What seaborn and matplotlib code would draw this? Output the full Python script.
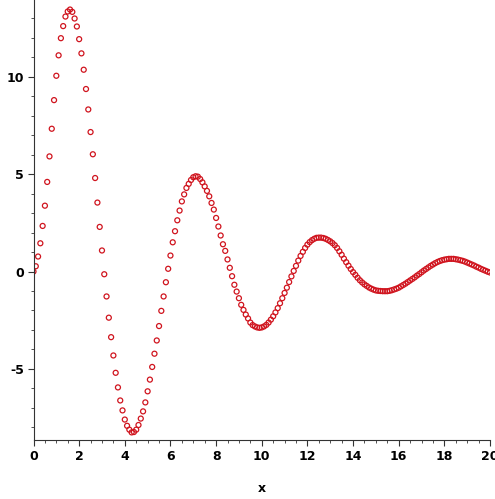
import numpy as np
import matplotlib
matplotlib.use("Agg")
import matplotlib.pyplot as plt
import seaborn as sns
from matplotlib.ticker import MultipleLocator

# valeurs, un point tous les 0.1 de x = 0 à x = 20
y_vals = [
    0.00, 0.27, 0.77, 1.45, 2.34, 3.38, 4.60, 5.91, 7.33, 8.80,
    10.05, 11.10, 11.98, 12.60, 13.09, 13.35, 13.45, 13.33, 12.99, 12.58,
    11.93, 11.20, 10.36, 9.37, 8.32, 7.16, 6.02, 4.80, 3.54, 2.29,
    1.08, -0.14, -1.28, -2.37, -3.37, -4.31, -5.20, -5.95, -6.62, -7.13,
    -7.60, -7.92, -8.12, -8.26, -8.24, -8.12, -7.88, -7.55, -7.18, -6.72,
    -6.15, -5.55, -4.90, -4.22, -3.54, -2.80, -2.02, -1.28, -0.55, 0.14,
    0.82, 1.50, 2.07, 2.63, 3.13, 3.60, 3.96, 4.29, 4.50, 4.70,
    4.84, 4.89, 4.87, 4.75, 4.58, 4.37, 4.14, 3.86, 3.52, 3.18,
    2.75, 2.31, 1.85, 1.40, 1.06, 0.62, 0.19, -0.24, -0.68, -1.03,
    -1.37, -1.71, -1.97, -2.21, -2.41, -2.62, -2.75, -2.82, -2.87, -2.89,
    -2.87, -2.82, -2.74, -2.62, -2.47, -2.30, -2.10, -1.88, -1.63, -1.37,
    -1.10, -0.83, -0.54, -0.25, 0.03, 0.29, 0.56, 0.80, 1.01, 1.21,
    1.38, 1.51, 1.61, 1.68, 1.73, 1.74, 1.74, 1.72, 1.68, 1.62,
    1.55, 1.46, 1.35, 1.21, 1.04, 0.86, 0.66, 0.48, 0.30, 0.13,
    -0.03, -0.17, -0.32, -0.45, -0.56, -0.66, -0.74, -0.82, -0.88, -0.93,
    -0.97, -0.99, -1.00, -1.01, -1.01, -1.01, -0.99, -0.96, -0.92, -0.88,
    -0.83, -0.76, -0.69, -0.62, -0.54, -0.46, -0.38, -0.30, -0.21, -0.13,
    -0.04, 0.05, 0.13, 0.21, 0.29, 0.36, 0.43, 0.49, 0.54, 0.58,
    0.61, 0.63, 0.65, 0.65, 0.65, 0.63, 0.61, 0.58, 0.55, 0.51,
    0.46, 0.41, 0.36, 0.31, 0.25, 0.20, 0.14, 0.09, 0.04, -0.01,
    -0.05,
]
x_vals = np.linspace(0, 20, len(y_vals))

x_ticks = [0, 2, 4, 6, 8, 10, 12, 14, 16, 18, 20]
y_ticks = [-5, 0, 5, 10]

sns.set_style("ticks")
plt.rcParams["axes.unicode_minus"] = False
fig = plt.figure(figsize=(4.95, 4.99), dpi=100)
ax = fig.add_axes([33.5 / 495, 59 / 499, (490 - 33.5) / 495, 440 / 499])

sns.scatterplot(x=x_vals, y=y_vals, ax=ax, marker="o", s=13,
                facecolor="none", edgecolor="#d0141e", linewidth=0.9)

ax.set_xlim(0, 20)
ax.set_ylim(-8.65, 13.94)
ax.set_xticks(x_ticks)
ax.set_yticks(y_ticks)
ax.xaxis.set_minor_locator(MultipleLocator(0.5))
ax.yaxis.set_minor_locator(MultipleLocator(1))
ax.tick_params(which="major", length=4, width=0.8, color="#333333", pad=3,
               labelcolor="black")
ax.tick_params(which="minor", length=2, width=0.6, color="#333333")
for lab in ax.get_xticklabels() + ax.get_yticklabels():
    lab.set_fontweight("bold")
    lab.set_fontsize(9)
ax.set_xlabel("x", fontsize=9, fontweight="bold", labelpad=14, color="black")
ax.set_ylabel("")
sns.despine(ax=ax)
for s in ["left", "bottom"]:
    ax.spines[s].set_color("#333333")
    ax.spines[s].set_linewidth(0.8)

fig.savefig("out.png", dpi=100)
